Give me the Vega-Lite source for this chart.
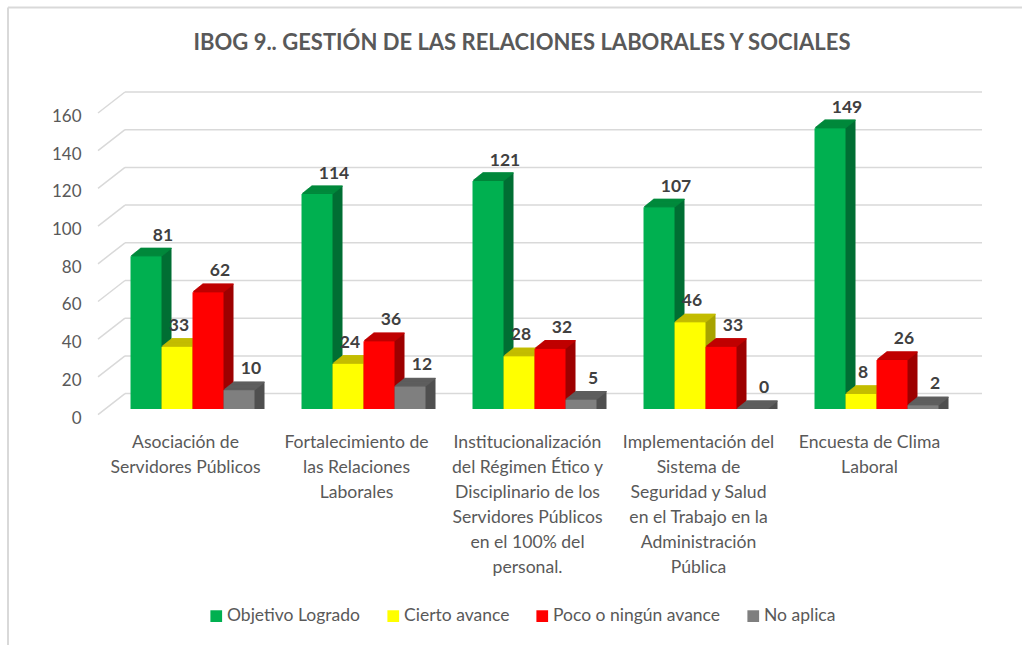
{
"$schema":"https://vega.github.io/schema/vega-lite/v6.json",
"width":855,"height":301.6,
"autosize":"none",
"padding":{"left":107,"top":107.4,"right":60,"bottom":236},
"background":"white",
"title":{"text":"IBOG 9.. GESTIÓN DE LAS RELACIONES LABORALES Y SOCIALES","anchor":"middle","frame":"group","offset":-49,"dx":-12.5,"font":"Lato","fontSize":22,"fontWeight":"bold","color":"#595959"},
"config":{"view":{"stroke":null},"font":"Lato"},
"data":{"values":[
{"categoria":"Asociación de|Servidores Públicos","estado":"Objetivo Logrado","valor":81},
{"categoria":"Asociación de|Servidores Públicos","estado":"Cierto avance","valor":33},
{"categoria":"Asociación de|Servidores Públicos","estado":"Poco o ningún avance","valor":62},
{"categoria":"Asociación de|Servidores Públicos","estado":"No aplica","valor":10},
{"categoria":"Fortalecimiento de|las Relaciones|Laborales","estado":"Objetivo Logrado","valor":114},
{"categoria":"Fortalecimiento de|las Relaciones|Laborales","estado":"Cierto avance","valor":24},
{"categoria":"Fortalecimiento de|las Relaciones|Laborales","estado":"Poco o ningún avance","valor":36},
{"categoria":"Fortalecimiento de|las Relaciones|Laborales","estado":"No aplica","valor":12},
{"categoria":"Institucionalización|del Régimen Ético y|Disciplinario de los|Servidores Públicos|en el 100% del|personal.","estado":"Objetivo Logrado","valor":121},
{"categoria":"Institucionalización|del Régimen Ético y|Disciplinario de los|Servidores Públicos|en el 100% del|personal.","estado":"Cierto avance","valor":28},
{"categoria":"Institucionalización|del Régimen Ético y|Disciplinario de los|Servidores Públicos|en el 100% del|personal.","estado":"Poco o ningún avance","valor":32},
{"categoria":"Institucionalización|del Régimen Ético y|Disciplinario de los|Servidores Públicos|en el 100% del|personal.","estado":"No aplica","valor":5},
{"categoria":"Implementación del|Sistema de|Seguridad y Salud|en el Trabajo en la|Administración|Pública","estado":"Objetivo Logrado","valor":107},
{"categoria":"Implementación del|Sistema de|Seguridad y Salud|en el Trabajo en la|Administración|Pública","estado":"Cierto avance","valor":46},
{"categoria":"Implementación del|Sistema de|Seguridad y Salud|en el Trabajo en la|Administración|Pública","estado":"Poco o ningún avance","valor":33},
{"categoria":"Implementación del|Sistema de|Seguridad y Salud|en el Trabajo en la|Administración|Pública","estado":"No aplica","valor":0},
{"categoria":"Encuesta de Clima|Laboral","estado":"Objetivo Logrado","valor":149},
{"categoria":"Encuesta de Clima|Laboral","estado":"Cierto avance","valor":8},
{"categoria":"Encuesta de Clima|Laboral","estado":"Poco o ningún avance","valor":26},
{"categoria":"Encuesta de Clima|Laboral","estado":"No aplica","valor":2}
]},
"layer":[
{"data":{"values":[{"k":1}]},"mark":{"type":"rule","color":"#d9d9d9","strokeWidth":2},"encoding":{"x":{"value":-99},"y":{"value":-100},"y2":{"value":538}}},
{"data":{"values":[{"k":1}]},"mark":{"type":"rule","color":"#d9d9d9","strokeWidth":2},"encoding":{"x":{"value":-99},"x2":{"value":915},"y":{"value":-100}}},
{"data":{"values":[{"marca":0},{"marca":20},{"marca":40},{"marca":60},{"marca":80},{"marca":100},{"marca":120},{"marca":140},{"marca":160}]},
 "layer":[
 {"mark":{"type":"rule","color":"#d9d9d9","strokeWidth":1.5,"yOffset":-15.4},"encoding":{
  "x":{"value":18},"x2":{"value":875},
  "y":{"field":"marca","type":"quantitative","title":null,"scale":{"domain":[0,160],"nice":false},"axis":{"values":[0,20,40,60,80,100,120,140,160],"domain":false,"ticks":false,"grid":false,"labelFontSize":17,"labelColor":"#595959","labelFont":"Lato","labelPadding":26,"labelOffset":9,"labelOverlap":false,"tickCount":9}}}},
 {"mark":{"type":"rule","color":"#d9d9d9","strokeWidth":1.5,"yOffset":5.6,"y2Offset":-15.4},"encoding":{
  "x":{"value":-9},"x2":{"value":18},
  "y":{"field":"marca","type":"quantitative","title":null,"axis":{"values":[0,20,40,60,80,100,120,140,160],"domain":false,"ticks":false,"grid":false,"labelFontSize":17,"labelColor":"#595959","labelFont":"Lato","labelPadding":26,"labelOffset":9,"labelOverlap":false,"tickCount":9}},"y2":{"field":"marca"}}}
 ]},
{"encoding":{
  "x":{"field":"categoria","type":"nominal","sort":null,"title":null,"scale":{"paddingInner":0.275,"paddingOuter":0.1375},
   "axis":{"labelExpr":"split(datum.value,'|')","labelAngle":0,"domain":false,"ticks":false,"grid":false,"labelFontSize":17.6,"labelColor":"#595959","labelFont":"Lato","labelPadding":24,"labelLineHeight":25,"labelOffset":-7,"labelBaseline":"top","labelLimit":0}},
  "xOffset":{"field":"estado","type":"nominal","sort":null,"scale":{"domain":["Objetivo Logrado","Cierto avance","Poco o ningún avance","No aplica"],"range":[0,124]}},
  "y":{"field":"valor","type":"quantitative","stack":null,"title":null,"axis":{"values":[0,20,40,60,80,100,120,140,160],"domain":false,"ticks":false,"grid":false,"labelFontSize":17,"labelColor":"#595959","labelFont":"Lato","labelPadding":26,"labelOffset":9,"labelOverlap":false,"tickCount":9}}
 },
 "resolve":{"scale":{"xOffset":"independent"}},
 "layer":[
 {"mark":{"type":"bar","yOffset":-8,"y2Offset":-8},"encoding":{"xOffset":{"field":"estado","type":"nominal","sort":null,"scale":{"domain":["Objetivo Logrado","Cierto avance","Poco o ningún avance","No aplica"],"range":[10,134]}},"fill":{"field":"estado","legend":null,"scale":{"domain":["No aplica","Poco o ningún avance","Cierto avance","Objetivo Logrado"],"range":["#505050","#9e0000","#a8a300","#006f34"]}}}},
 {"mark":{"type":"bar","yOffset":-8,"y2Offset":-8,"fillOpacity":0,"strokeWidth":1},"encoding":{"xOffset":{"field":"estado","type":"nominal","sort":null,"scale":{"domain":["Objetivo Logrado","Cierto avance","Poco o ningún avance","No aplica"],"range":[10,134]}},"y2":{"field":"valor"},"stroke":{"field":"estado","legend":null,"scale":{"domain":["No aplica","Poco o ningún avance","Cierto avance","Objetivo Logrado"],"range":["#5f5f5f","#c00000","#c4bd00","#008a3c"]}}}},
 {"mark":{"type":"bar","yOffset":-7.2,"y2Offset":-7.2},"encoding":{"xOffset":{"field":"estado","type":"nominal","sort":null,"scale":{"domain":["Objetivo Logrado","Cierto avance","Poco o ningún avance","No aplica"],"range":[9,133]}},"fill":{"field":"estado","legend":null}}},
 {"mark":{"type":"bar","yOffset":-7.2,"y2Offset":-7.2,"fillOpacity":0,"strokeWidth":1},"encoding":{"xOffset":{"field":"estado","type":"nominal","sort":null,"scale":{"domain":["Objetivo Logrado","Cierto avance","Poco o ningún avance","No aplica"],"range":[9,133]}},"y2":{"field":"valor"},"stroke":{"field":"estado","legend":null}}},
 {"mark":{"type":"bar","yOffset":-6.4,"y2Offset":-6.4},"encoding":{"xOffset":{"field":"estado","type":"nominal","sort":null,"scale":{"domain":["Objetivo Logrado","Cierto avance","Poco o ningún avance","No aplica"],"range":[8,132]}},"fill":{"field":"estado","legend":null}}},
 {"mark":{"type":"bar","yOffset":-6.4,"y2Offset":-6.4,"fillOpacity":0,"strokeWidth":1},"encoding":{"xOffset":{"field":"estado","type":"nominal","sort":null,"scale":{"domain":["Objetivo Logrado","Cierto avance","Poco o ningún avance","No aplica"],"range":[8,132]}},"y2":{"field":"valor"},"stroke":{"field":"estado","legend":null}}},
 {"mark":{"type":"bar","yOffset":-5.6,"y2Offset":-5.6},"encoding":{"xOffset":{"field":"estado","type":"nominal","sort":null,"scale":{"domain":["Objetivo Logrado","Cierto avance","Poco o ningún avance","No aplica"],"range":[7,131]}},"fill":{"field":"estado","legend":null}}},
 {"mark":{"type":"bar","yOffset":-5.6,"y2Offset":-5.6,"fillOpacity":0,"strokeWidth":1},"encoding":{"xOffset":{"field":"estado","type":"nominal","sort":null,"scale":{"domain":["Objetivo Logrado","Cierto avance","Poco o ningún avance","No aplica"],"range":[7,131]}},"y2":{"field":"valor"},"stroke":{"field":"estado","legend":null}}},
 {"mark":{"type":"bar","yOffset":-4.8,"y2Offset":-4.8},"encoding":{"xOffset":{"field":"estado","type":"nominal","sort":null,"scale":{"domain":["Objetivo Logrado","Cierto avance","Poco o ningún avance","No aplica"],"range":[6,130]}},"fill":{"field":"estado","legend":null}}},
 {"mark":{"type":"bar","yOffset":-4.8,"y2Offset":-4.8,"fillOpacity":0,"strokeWidth":1},"encoding":{"xOffset":{"field":"estado","type":"nominal","sort":null,"scale":{"domain":["Objetivo Logrado","Cierto avance","Poco o ningún avance","No aplica"],"range":[6,130]}},"y2":{"field":"valor"},"stroke":{"field":"estado","legend":null}}},
 {"mark":{"type":"bar","yOffset":-4,"y2Offset":-4},"encoding":{"xOffset":{"field":"estado","type":"nominal","sort":null,"scale":{"domain":["Objetivo Logrado","Cierto avance","Poco o ningún avance","No aplica"],"range":[5,129]}},"fill":{"field":"estado","legend":null}}},
 {"mark":{"type":"bar","yOffset":-4,"y2Offset":-4,"fillOpacity":0,"strokeWidth":1},"encoding":{"xOffset":{"field":"estado","type":"nominal","sort":null,"scale":{"domain":["Objetivo Logrado","Cierto avance","Poco o ningún avance","No aplica"],"range":[5,129]}},"y2":{"field":"valor"},"stroke":{"field":"estado","legend":null}}},
 {"mark":{"type":"bar","yOffset":-3.2,"y2Offset":-3.2},"encoding":{"xOffset":{"field":"estado","type":"nominal","sort":null,"scale":{"domain":["Objetivo Logrado","Cierto avance","Poco o ningún avance","No aplica"],"range":[4,128]}},"fill":{"field":"estado","legend":null}}},
 {"mark":{"type":"bar","yOffset":-3.2,"y2Offset":-3.2,"fillOpacity":0,"strokeWidth":1},"encoding":{"xOffset":{"field":"estado","type":"nominal","sort":null,"scale":{"domain":["Objetivo Logrado","Cierto avance","Poco o ningún avance","No aplica"],"range":[4,128]}},"y2":{"field":"valor"},"stroke":{"field":"estado","legend":null}}},
 {"mark":{"type":"bar","yOffset":-2.4,"y2Offset":-2.4},"encoding":{"xOffset":{"field":"estado","type":"nominal","sort":null,"scale":{"domain":["Objetivo Logrado","Cierto avance","Poco o ningún avance","No aplica"],"range":[3,127]}},"fill":{"field":"estado","legend":null}}},
 {"mark":{"type":"bar","yOffset":-2.4,"y2Offset":-2.4,"fillOpacity":0,"strokeWidth":1},"encoding":{"xOffset":{"field":"estado","type":"nominal","sort":null,"scale":{"domain":["Objetivo Logrado","Cierto avance","Poco o ningún avance","No aplica"],"range":[3,127]}},"y2":{"field":"valor"},"stroke":{"field":"estado","legend":null}}},
 {"mark":{"type":"bar","yOffset":-1.6,"y2Offset":-1.6},"encoding":{"xOffset":{"field":"estado","type":"nominal","sort":null,"scale":{"domain":["Objetivo Logrado","Cierto avance","Poco o ningún avance","No aplica"],"range":[2,126]}},"fill":{"field":"estado","legend":null}}},
 {"mark":{"type":"bar","yOffset":-1.6,"y2Offset":-1.6,"fillOpacity":0,"strokeWidth":1},"encoding":{"xOffset":{"field":"estado","type":"nominal","sort":null,"scale":{"domain":["Objetivo Logrado","Cierto avance","Poco o ningún avance","No aplica"],"range":[2,126]}},"y2":{"field":"valor"},"stroke":{"field":"estado","legend":null}}},
 {"mark":{"type":"bar","yOffset":-0.8,"y2Offset":-0.8},"encoding":{"xOffset":{"field":"estado","type":"nominal","sort":null,"scale":{"domain":["Objetivo Logrado","Cierto avance","Poco o ningún avance","No aplica"],"range":[1,125]}},"fill":{"field":"estado","legend":null}}},
 {"mark":{"type":"bar","yOffset":-0.8,"y2Offset":-0.8,"fillOpacity":0,"strokeWidth":1},"encoding":{"xOffset":{"field":"estado","type":"nominal","sort":null,"scale":{"domain":["Objetivo Logrado","Cierto avance","Poco o ningún avance","No aplica"],"range":[1,125]}},"y2":{"field":"valor"},"stroke":{"field":"estado","legend":null}}},
 {"mark":{"type":"bar"},"encoding":{"color":{"field":"estado","type":"nominal","title":null,"scale":{"domain":["Objetivo Logrado","Cierto avance","Poco o ningún avance","No aplica"],"range":["#00b050","#ffff00","#ff0000","#7f7f7f"]},
   "legend":{"orient":"none","legendX":100.5,"legendY":499.6,"direction":"horizontal","columns":4,"symbolType":"square","symbolSize":137,"labelFontSize":17.5,"labelColor":"#595959","labelFont":"Lato","labelLimit":400,"labelOffset":2,"columnPadding":24,"symbolStrokeWidth":0}}}},
 {"transform":[{"filter":"datum.estado==='Objetivo Logrado'"}],"mark":{"type":"text","font":"Lato","fontSize":17.5,"fontWeight":"bold","color":"#404040","dx":17,"dy":-20},"encoding":{"text":{"field":"valor"}}},
 {"transform":[{"filter":"datum.estado==='Cierto avance'"}],"mark":{"type":"text","font":"Lato","fontSize":17.5,"fontWeight":"bold","color":"#404040","dx":2,"dy":-21},"encoding":{"text":{"field":"valor"}}},
 {"transform":[{"filter":"datum.estado==='Poco o ningún avance'"}],"mark":{"type":"text","font":"Lato","fontSize":17.5,"fontWeight":"bold","color":"#404040","dx":12,"dy":-21},"encoding":{"text":{"field":"valor"}}},
 {"transform":[{"filter":"datum.estado==='No aplica'"}],"mark":{"type":"text","font":"Lato","fontSize":17.5,"fontWeight":"bold","color":"#404040","dx":12,"dy":-21},"encoding":{"text":{"field":"valor"}}}
 ]}
]
}
